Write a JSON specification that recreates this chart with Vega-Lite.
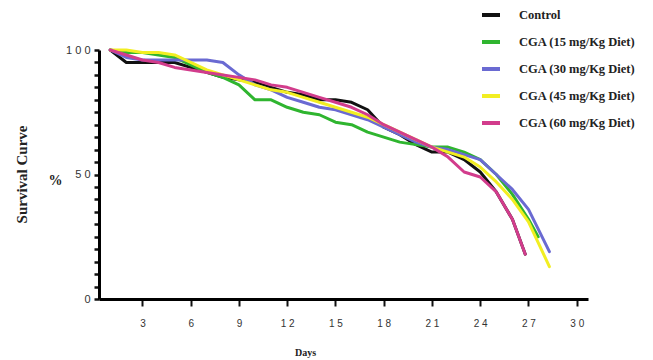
{
  "$schema": "https://vega.github.io/schema/vega-lite/v6.json",
  "autosize": {"type": "none"},
  "width": 489,
  "height": 249,
  "padding": {"left": 99, "top": 50, "right": 65, "bottom": 61},
  "background": "white",
  "title": {"text": "Survival Curve", "orient": "left", "anchor": "middle", "offset": 18, "font": "Liberation Serif", "fontSize": 15, "fontWeight": "bold", "color": "#222"},
  "datasets": {
    "surv": [
      {"group": "Control", "day": 1, "pct": 100}, {"group": "Control", "day": 2, "pct": 95}, {"group": "Control", "day": 3, "pct": 95}, {"group": "Control", "day": 4, "pct": 95}, {"group": "Control", "day": 5, "pct": 95}, {"group": "Control", "day": 6, "pct": 93}, {"group": "Control", "day": 7, "pct": 91}, {"group": "Control", "day": 8, "pct": 89}, {"group": "Control", "day": 9, "pct": 88}, {"group": "Control", "day": 10, "pct": 87}, {"group": "Control", "day": 11, "pct": 85}, {"group": "Control", "day": 12, "pct": 83}, {"group": "Control", "day": 13, "pct": 82}, {"group": "Control", "day": 14, "pct": 80}, {"group": "Control", "day": 15, "pct": 80}, {"group": "Control", "day": 16, "pct": 79}, {"group": "Control", "day": 17, "pct": 76}, {"group": "Control", "day": 18, "pct": 69}, {"group": "Control", "day": 19, "pct": 66}, {"group": "Control", "day": 20, "pct": 62}, {"group": "Control", "day": 21, "pct": 59}, {"group": "Control", "day": 22, "pct": 59}, {"group": "Control", "day": 23, "pct": 56}, {"group": "Control", "day": 24, "pct": 51}, {"group": "Control", "day": 25, "pct": 43}, {"group": "Control", "day": 26, "pct": 32}, {"group": "Control", "day": 26.8, "pct": 18},
      {"group": "CGA (15 mg/Kg Diet)", "day": 1, "pct": 100}, {"group": "CGA (15 mg/Kg Diet)", "day": 2, "pct": 99}, {"group": "CGA (15 mg/Kg Diet)", "day": 3, "pct": 99}, {"group": "CGA (15 mg/Kg Diet)", "day": 4, "pct": 98}, {"group": "CGA (15 mg/Kg Diet)", "day": 5, "pct": 97}, {"group": "CGA (15 mg/Kg Diet)", "day": 6, "pct": 94}, {"group": "CGA (15 mg/Kg Diet)", "day": 7, "pct": 91}, {"group": "CGA (15 mg/Kg Diet)", "day": 8, "pct": 89}, {"group": "CGA (15 mg/Kg Diet)", "day": 9, "pct": 86}, {"group": "CGA (15 mg/Kg Diet)", "day": 10, "pct": 80}, {"group": "CGA (15 mg/Kg Diet)", "day": 11, "pct": 80}, {"group": "CGA (15 mg/Kg Diet)", "day": 12, "pct": 77}, {"group": "CGA (15 mg/Kg Diet)", "day": 13, "pct": 75}, {"group": "CGA (15 mg/Kg Diet)", "day": 14, "pct": 74}, {"group": "CGA (15 mg/Kg Diet)", "day": 15, "pct": 71}, {"group": "CGA (15 mg/Kg Diet)", "day": 16, "pct": 70}, {"group": "CGA (15 mg/Kg Diet)", "day": 17, "pct": 67}, {"group": "CGA (15 mg/Kg Diet)", "day": 18, "pct": 65}, {"group": "CGA (15 mg/Kg Diet)", "day": 19, "pct": 63}, {"group": "CGA (15 mg/Kg Diet)", "day": 20, "pct": 62}, {"group": "CGA (15 mg/Kg Diet)", "day": 21, "pct": 61}, {"group": "CGA (15 mg/Kg Diet)", "day": 22, "pct": 61}, {"group": "CGA (15 mg/Kg Diet)", "day": 23, "pct": 59}, {"group": "CGA (15 mg/Kg Diet)", "day": 24, "pct": 56}, {"group": "CGA (15 mg/Kg Diet)", "day": 25, "pct": 50}, {"group": "CGA (15 mg/Kg Diet)", "day": 26, "pct": 42}, {"group": "CGA (15 mg/Kg Diet)", "day": 27, "pct": 32}, {"group": "CGA (15 mg/Kg Diet)", "day": 27.6, "pct": 25},
      {"group": "CGA (30 mg/Kg Diet)", "day": 1, "pct": 100}, {"group": "CGA (30 mg/Kg Diet)", "day": 2, "pct": 97}, {"group": "CGA (30 mg/Kg Diet)", "day": 3, "pct": 96}, {"group": "CGA (30 mg/Kg Diet)", "day": 4, "pct": 96}, {"group": "CGA (30 mg/Kg Diet)", "day": 5, "pct": 96}, {"group": "CGA (30 mg/Kg Diet)", "day": 6, "pct": 96}, {"group": "CGA (30 mg/Kg Diet)", "day": 7, "pct": 96}, {"group": "CGA (30 mg/Kg Diet)", "day": 8, "pct": 95}, {"group": "CGA (30 mg/Kg Diet)", "day": 9, "pct": 90}, {"group": "CGA (30 mg/Kg Diet)", "day": 10, "pct": 86}, {"group": "CGA (30 mg/Kg Diet)", "day": 11, "pct": 84}, {"group": "CGA (30 mg/Kg Diet)", "day": 12, "pct": 81}, {"group": "CGA (30 mg/Kg Diet)", "day": 13, "pct": 79}, {"group": "CGA (30 mg/Kg Diet)", "day": 14, "pct": 77}, {"group": "CGA (30 mg/Kg Diet)", "day": 15, "pct": 76}, {"group": "CGA (30 mg/Kg Diet)", "day": 16, "pct": 74}, {"group": "CGA (30 mg/Kg Diet)", "day": 17, "pct": 72}, {"group": "CGA (30 mg/Kg Diet)", "day": 18, "pct": 69}, {"group": "CGA (30 mg/Kg Diet)", "day": 19, "pct": 66}, {"group": "CGA (30 mg/Kg Diet)", "day": 20, "pct": 63}, {"group": "CGA (30 mg/Kg Diet)", "day": 21, "pct": 61}, {"group": "CGA (30 mg/Kg Diet)", "day": 22, "pct": 60}, {"group": "CGA (30 mg/Kg Diet)", "day": 23, "pct": 58}, {"group": "CGA (30 mg/Kg Diet)", "day": 24, "pct": 56}, {"group": "CGA (30 mg/Kg Diet)", "day": 25, "pct": 50}, {"group": "CGA (30 mg/Kg Diet)", "day": 26, "pct": 44}, {"group": "CGA (30 mg/Kg Diet)", "day": 27, "pct": 36}, {"group": "CGA (30 mg/Kg Diet)", "day": 28.3, "pct": 19},
      {"group": "CGA (45 mg/Kg Diet)", "day": 1, "pct": 100}, {"group": "CGA (45 mg/Kg Diet)", "day": 2, "pct": 100}, {"group": "CGA (45 mg/Kg Diet)", "day": 3, "pct": 99}, {"group": "CGA (45 mg/Kg Diet)", "day": 4, "pct": 99}, {"group": "CGA (45 mg/Kg Diet)", "day": 5, "pct": 98}, {"group": "CGA (45 mg/Kg Diet)", "day": 6, "pct": 95}, {"group": "CGA (45 mg/Kg Diet)", "day": 7, "pct": 92}, {"group": "CGA (45 mg/Kg Diet)", "day": 8, "pct": 90}, {"group": "CGA (45 mg/Kg Diet)", "day": 9, "pct": 88}, {"group": "CGA (45 mg/Kg Diet)", "day": 10, "pct": 86}, {"group": "CGA (45 mg/Kg Diet)", "day": 11, "pct": 84}, {"group": "CGA (45 mg/Kg Diet)", "day": 12, "pct": 83}, {"group": "CGA (45 mg/Kg Diet)", "day": 13, "pct": 81}, {"group": "CGA (45 mg/Kg Diet)", "day": 14, "pct": 79}, {"group": "CGA (45 mg/Kg Diet)", "day": 15, "pct": 77}, {"group": "CGA (45 mg/Kg Diet)", "day": 16, "pct": 75}, {"group": "CGA (45 mg/Kg Diet)", "day": 17, "pct": 73}, {"group": "CGA (45 mg/Kg Diet)", "day": 18, "pct": 70}, {"group": "CGA (45 mg/Kg Diet)", "day": 19, "pct": 67}, {"group": "CGA (45 mg/Kg Diet)", "day": 20, "pct": 64}, {"group": "CGA (45 mg/Kg Diet)", "day": 21, "pct": 61}, {"group": "CGA (45 mg/Kg Diet)", "day": 22, "pct": 59}, {"group": "CGA (45 mg/Kg Diet)", "day": 23, "pct": 57}, {"group": "CGA (45 mg/Kg Diet)", "day": 24, "pct": 53}, {"group": "CGA (45 mg/Kg Diet)", "day": 25, "pct": 47}, {"group": "CGA (45 mg/Kg Diet)", "day": 26, "pct": 40}, {"group": "CGA (45 mg/Kg Diet)", "day": 27, "pct": 31}, {"group": "CGA (45 mg/Kg Diet)", "day": 28.3, "pct": 13},
      {"group": "CGA (60 mg/Kg Diet)", "day": 1, "pct": 100}, {"group": "CGA (60 mg/Kg Diet)", "day": 2, "pct": 98}, {"group": "CGA (60 mg/Kg Diet)", "day": 3, "pct": 96}, {"group": "CGA (60 mg/Kg Diet)", "day": 4, "pct": 95}, {"group": "CGA (60 mg/Kg Diet)", "day": 5, "pct": 93}, {"group": "CGA (60 mg/Kg Diet)", "day": 6, "pct": 92}, {"group": "CGA (60 mg/Kg Diet)", "day": 7, "pct": 91}, {"group": "CGA (60 mg/Kg Diet)", "day": 8, "pct": 90}, {"group": "CGA (60 mg/Kg Diet)", "day": 9, "pct": 89}, {"group": "CGA (60 mg/Kg Diet)", "day": 10, "pct": 88}, {"group": "CGA (60 mg/Kg Diet)", "day": 11, "pct": 86}, {"group": "CGA (60 mg/Kg Diet)", "day": 12, "pct": 85}, {"group": "CGA (60 mg/Kg Diet)", "day": 13, "pct": 83}, {"group": "CGA (60 mg/Kg Diet)", "day": 14, "pct": 81}, {"group": "CGA (60 mg/Kg Diet)", "day": 15, "pct": 79}, {"group": "CGA (60 mg/Kg Diet)", "day": 16, "pct": 77}, {"group": "CGA (60 mg/Kg Diet)", "day": 17, "pct": 74}, {"group": "CGA (60 mg/Kg Diet)", "day": 18, "pct": 70}, {"group": "CGA (60 mg/Kg Diet)", "day": 19, "pct": 67}, {"group": "CGA (60 mg/Kg Diet)", "day": 20, "pct": 64}, {"group": "CGA (60 mg/Kg Diet)", "day": 21, "pct": 61}, {"group": "CGA (60 mg/Kg Diet)", "day": 22, "pct": 57}, {"group": "CGA (60 mg/Kg Diet)", "day": 23, "pct": 51}, {"group": "CGA (60 mg/Kg Diet)", "day": 24, "pct": 49}, {"group": "CGA (60 mg/Kg Diet)", "day": 25, "pct": 43}, {"group": "CGA (60 mg/Kg Diet)", "day": 26, "pct": 32}, {"group": "CGA (60 mg/Kg Diet)", "day": 26.8, "pct": 18}
    ]
  },
  "data": {"name": "surv"},
  "mark": {"type": "line", "strokeWidth": 3, "strokeCap": "round", "strokeJoin": "round", "clip": false},
  "encoding": {
    "x": {
      "field": "day", "type": "quantitative",
      "scale": {"domain": [0.3, 30.7], "nice": false, "zero": false},
      "axis": {
        "values": [3, 6, 9, 12, 15, 18, 21, 24, 27, 30],
        "grid": false,
        "domainColor": "#000", "domainWidth": 3,
        "tickColor": "#111", "tickWidth": 2, "tickSize": 7,
        "labelExpr": "join(split(datum.label, ''), ' ')",
        "labelFont": "Liberation Sans", "labelFontSize": 10, "labelColor": "#333", "labelPadding": 12,
        "title": "Days", "titleFont": "Liberation Serif", "titleFontSize": 10, "titleFontWeight": "bold", "titleColor": "#222",
        "titleX": 206, "titleY": 53, "titleAnchor": "middle", "titleBaseline": "middle"
      }
    },
    "y": {
      "field": "pct", "type": "quantitative",
      "scale": {"domain": [0, 100], "nice": false},
      "axis": {
        "values": [0, 5, 10, 15, 20, 25, 30, 35, 40, 45, 50, 55, 60, 65, 70, 75, 80, 85, 90, 95, 100],
        "grid": false,
        "domainColor": "#000", "domainWidth": 3,
        "tickColor": "#111", "tickWidth": 2.5, "tickSize": 5,
        "labelExpr": "datum.value % 50 == 0 ? join(split(datum.label, ''), '  ') : ''",
        "labelFont": "Liberation Sans", "labelFontSize": 11, "labelColor": "#333", "labelPadding": 4,
        "title": "%", "titleAngle": 0, "titleFont": "Liberation Serif", "titleFontSize": 14, "titleFontWeight": "bold", "titleColor": "#222",
        "titleX": -44, "titleY": 130, "titleAlign": "center", "titleBaseline": "middle"
      }
    },
    "color": {
      "field": "group", "type": "nominal",
      "scale": {
        "domain": ["Control", "CGA (15 mg/Kg Diet)", "CGA (30 mg/Kg Diet)", "CGA (45 mg/Kg Diet)", "CGA (60 mg/Kg Diet)"],
        "range": ["#111111", "#2fb52f", "#6a6ad2", "#f2ee22", "#d23c8c"]
      },
      "legend": {
        "orient": "none", "legendX": 381, "legendY": -46, "title": null,
        "symbolType": "stroke", "symbolSize": 324, "symbolStrokeWidth": 4,
        "labelFont": "Liberation Serif", "labelFontSize": 12.5, "labelFontWeight": "bold", "labelColor": "#222",
        "labelOffset": 17, "rowPadding": 8
      }
    }
  },
  "config": {"view": {"stroke": null}}
}
